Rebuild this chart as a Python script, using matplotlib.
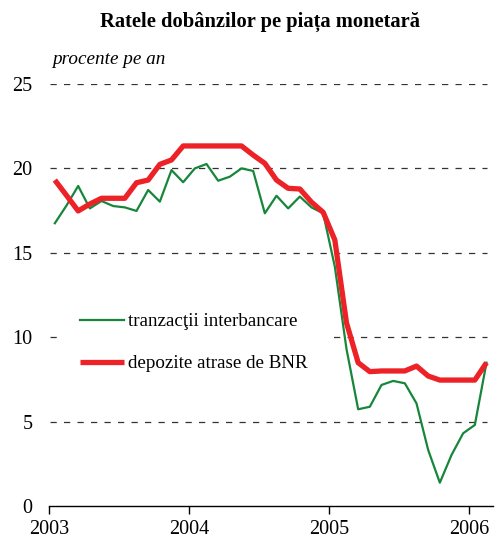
import numpy as np
import matplotlib.pyplot as plt

plt.rcParams['font.family'] = ['Liberation Serif', 'DejaVu Serif']

# monthly data, Jan 2003 - Feb 2006
months = np.arange(38)
interbank = [16.75, 17.8, 18.96, 17.63, 18.07, 17.77, 17.69, 17.48, 18.72, 18.03,
             19.9, 19.18, 20.0, 20.26, 19.27, 19.51, 20.0, 19.85, 17.34, 18.38,
             17.63, 18.33, 17.69, 17.34, 14.18, 9.3, 5.73, 5.88, 7.17, 7.41,
             7.27, 6.08, 3.32, 1.38, 3.02, 4.31, 4.8, 8.49]
bnr_deposits = [19.31, 18.4, 17.48, 17.89, 18.23, 18.23, 18.23, 19.15, 19.31, 20.24,
                20.5, 21.33, 21.33, 21.33, 21.33, 21.33, 21.33, 20.79, 20.3, 19.31,
                18.82, 18.78, 18.0, 17.4, 15.76, 10.85, 8.49, 7.96, 8.0, 8.0,
                8.0, 8.29, 7.7, 7.46, 7.46, 7.46, 7.46, 8.49]
years = [2003, 2004, 2005, 2006]
yticks = [0, 5, 10, 15, 20, 25]

x = 2003 + (months + 0.5) / 12

fig = plt.figure(figsize=(4.96, 5.41), dpi=100)
ax = fig.add_axes([49 / 496, 35 / 541, 444 / 496, 422 / 541])

ax.plot(x, interbank, color='#16873a', lw=1.6, label='tranzacţii interbancare', zorder=3)
ax.plot(x, bnr_deposits, color='#ec2227', lw=3.8, label='depozite atrase de BNR',
        zorder=4, solid_capstyle='butt')

ax.set_xlim(2003, 2003 + 444 / 140)
ax.set_ylim(0, 25)
ax.set_xticks(years)
ax.set_xticklabels([str(y) for y in years])
ax.set_yticks(yticks)

for v in yticks[1:]:
    ax.axhline(v, xmin=0.003, xmax=0.987, color='#333333', lw=0.9,
               dashes=(5, 5.8), zorder=1)

for s in ['left', 'right', 'top']:
    ax.spines[s].set_visible(False)
ax.spines['bottom'].set_linewidth(1.0)
ax.tick_params(axis='y', length=0, pad=12, labelsize=14.5)
ax.tick_params(axis='x', length=6, width=1.0, direction='out', labelsize=14.5, pad=4)

leg = ax.legend(loc='upper left', bbox_to_anchor=(0.005, 0.525), frameon=True,
                fontsize=13.7, handlelength=2.3, handletextpad=0.25,
                labelspacing=1.3, borderpad=1.0, fancybox=False)
leg.get_frame().set_edgecolor('none')
leg.get_frame().set_facecolor('white')
leg.get_frame().set_alpha(1)

fig.text(260 / 496, 1 - 22 / 541, 'Ratele dobânzilor pe piața monetară',
         ha='center', va='center', fontsize=14.8, fontweight='bold')
fig.text(52 / 496, 1 - 60 / 541, 'procente pe an', ha='left', va='center',
         fontsize=13.8, style='italic')

fig.savefig('out.png', dpi=100)
